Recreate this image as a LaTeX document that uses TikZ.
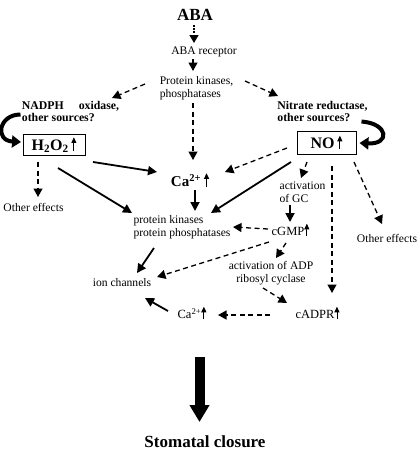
\documentclass[tikz,border=0pt]{standalone}
\usepackage{fontspec}
\setmainfont{Liberation Serif}
\usetikzlibrary{arrows.meta,calc}
\newcommand{\uparr}[2][0.8pt]{\tikz[baseline=0pt]\draw[line width=#1,-{Triangle[width=5pt,length=5.5pt]}](0pt,-0.5pt)--(0pt,#2);}
\begin{document}
\begin{tikzpicture}[x=1pt,y=-1pt,
  lbl/.style={inner sep=0pt,font=\fontsize{11.6}{12.5}\selectfont},
  blbl/.style={inner sep=0pt,font=\fontsize{11.8}{12.5}\selectfont\bfseries},
  mlbl/.style={inner sep=0pt,font=\fontsize{12.5}{13}\selectfont},
  big/.style={inner sep=0pt,font=\fontsize{17}{18}\selectfont\bfseries},
  boxn/.style={draw,line width=0.8pt,inner sep=0pt,font=\fontsize{16}{18}\selectfont\bfseries},
  solidarr/.style={line width=1.8pt,-{Triangle[width=9pt,length=9pt]}},
  dasharr/.style={line width=1.3pt,dash pattern=on 5pt off 3.5pt,-{Triangle[width=9pt,length=8.5pt]}},
  dotarr/.style={line width=1.6pt,dash pattern=on 1.6pt off 1.6pt,-{Triangle[width=9pt,length=8pt]}},
  curvarr/.style={line width=4pt,-{Triangle[width=12pt,length=9pt]}},
  bigarr/.style={line width=10pt,-{Triangle[width=19pt,length=17pt]}}
]
\useasboundingbox (0,0) rectangle (418,450);

\node[big] (aba) at (195,15) {ABA};
\node[lbl] (rec) at (204,52) {ABA receptor};
\node[lbl,align=left] (pk) at (196.5,88) {Protein kinases,\\phosphatases};
\node[blbl,align=left] (nadph) at (70.5,111.5) {NADPH\hspace{15pt}oxidase,\\other sources?};
\node[blbl,align=left] (nitr) at (322.5,111.5) {Nitrate reductase,\\other sources?};
\node[boxn,minimum width=62pt,minimum height=21pt] (h2o2) at (54,145) {H\textsubscript{2}O\textsubscript{2}\,\uparr{13pt}};
\node[boxn,minimum width=59pt,minimum height=23pt] (no) at (326.5,142.5) {NO\,\uparr{13pt}};
\node[lbl] (oth1) at (33.5,207) {Other effects};
\node[lbl] (oth2) at (387,238) {Other effects};
\node[inner sep=0pt] (ca1) at (190,180) {{\fontsize{15}{16}\selectfont\bfseries Ca\textsuperscript{2+}}\hspace{3pt}\uparr{13pt}};
\node[lbl,align=left] (pkp) at (182,227) {protein kinases\\protein phosphatases};
\node[lbl,align=left] (gc) at (302.5,192) {activation\\of GC};
\node[mlbl] (cgmp) at (290.5,230) {cGMP\uparr{12pt}};
\node[lbl,align=center] (adp) at (271,273) {activation of ADP\\ribosyl cyclase};
\node[lbl] (ion) at (122,283) {ion channels};
\node[mlbl] (ca2) at (192,313) {Ca\textsuperscript{2+}\uparr{12pt}};
\node[mlbl] (cadpr) at (317.5,313) {cADPR\uparr{12pt}};
\node[big] (stom) at (205,442) {Stomatal closure};
\coordinate (bigstart) at (199.5,357);

% connectors
\draw[dotarr] ([shift={(-1,10)}]aba.center) -- ([shift={(-10,-9)}]rec.center);
\draw[dasharr] ([shift={(-11,7)}]rec.center) -- ([shift={(-3.5,-17)}]pk.center);
\draw[dasharr] ([shift={(-51.5,-4)}]pk.center) -- ([shift={(41.5,-13.5)}]nadph.center);
\draw[dasharr] ([shift={(48.5,-7)}]pk.center) -- ([shift={(-44.5,-15.5)}]nitr.center);
\draw[dasharr] ([shift={(-3.5,15)}]pk.center) -- ([shift={(3,-20)}]ca1.center);
\draw[curvarr] ([shift={(-50,3)}]nadph.center) .. controls ([shift={(-72,3)}]nadph.center) and ([shift={(-76,29)}]nadph.center) .. ([shift={(-33,-3)}]h2o2.center);
\draw[curvarr] ([shift={(39,10)}]nitr.center) .. controls ([shift={(66,12)}]nitr.center) and ([shift={(68,33)}]nitr.center) .. ([shift={(33,0.5)}]no.center);
\draw[dasharr] ([shift={(-16,17)}]h2o2.center) -- ([shift={(4.5,-10)}]oth1.center);
\draw[solidarr] ([shift={(39,17)}]h2o2.center) -- ([shift={(-33,-8)}]ca1.center);
\draw[solidarr] ([shift={(4,23)}]h2o2.center) -- ([shift={(-50,-14)}]pkp.center);
\draw[solidarr] ([shift={(5,10)}]ca1.center) -- ([shift={(13,-16)}]pkp.center);
\draw[dasharr] ([shift={(-39.5,5.5)}]no.center) -- ([shift={(35,-8)}]ca1.center);
\draw[solidarr] ([shift={(-35.5,19.5)}]no.center) -- ([shift={(29,-14)}]pkp.center);
\draw[dasharr] ([shift={(-19.5,19.5)}]no.center) -- ([shift={(-1.5,-14)}]gc.center);
\draw[dasharr] ([shift={(5.5,23.5)}]no.center) -- ([shift={(14.5,-20)}]cadpr.center);
\draw[dasharr] ([shift={(27.5,19.5)}]no.center) -- ([shift={(-5,-14)}]oth2.center);
\draw[solidarr] ([shift={(-12.5,13)}]gc.center) -- ([shift={(-0.5,-8)}]cgmp.center);
\draw[dasharr] ([shift={(-22.5,-1)}]cgmp.center) -- ([shift={(51,0)}]pkp.center);
\draw[dasharr] ([shift={(-21.5,12)}]cgmp.center) -- ([shift={(35,-6)}]ion.center);
\draw[dasharr] ([shift={(-4.5,13)}]cgmp.center) -- ([shift={(5,-15)}]adp.center);
\draw[dasharr] ([shift={(-8,15)}]adp.center) -- ([shift={(-30.5,-10)}]cadpr.center);
\draw[dasharr] ([shift={(-47.5,2)}]cadpr.center) -- ([shift={(26,2)}]ca2.center);
\draw[solidarr] ([shift={(-24,-2)}]ca2.center) -- ([shift={(23,15)}]ion.center);
\draw[solidarr] ([shift={(-28,21)}]pkp.center) -- ([shift={(15,-10)}]ion.center);
\draw[bigarr] (bigstart) -- ([shift={(-5.5,-20)}]stom.center);
\end{tikzpicture}
\end{document}
